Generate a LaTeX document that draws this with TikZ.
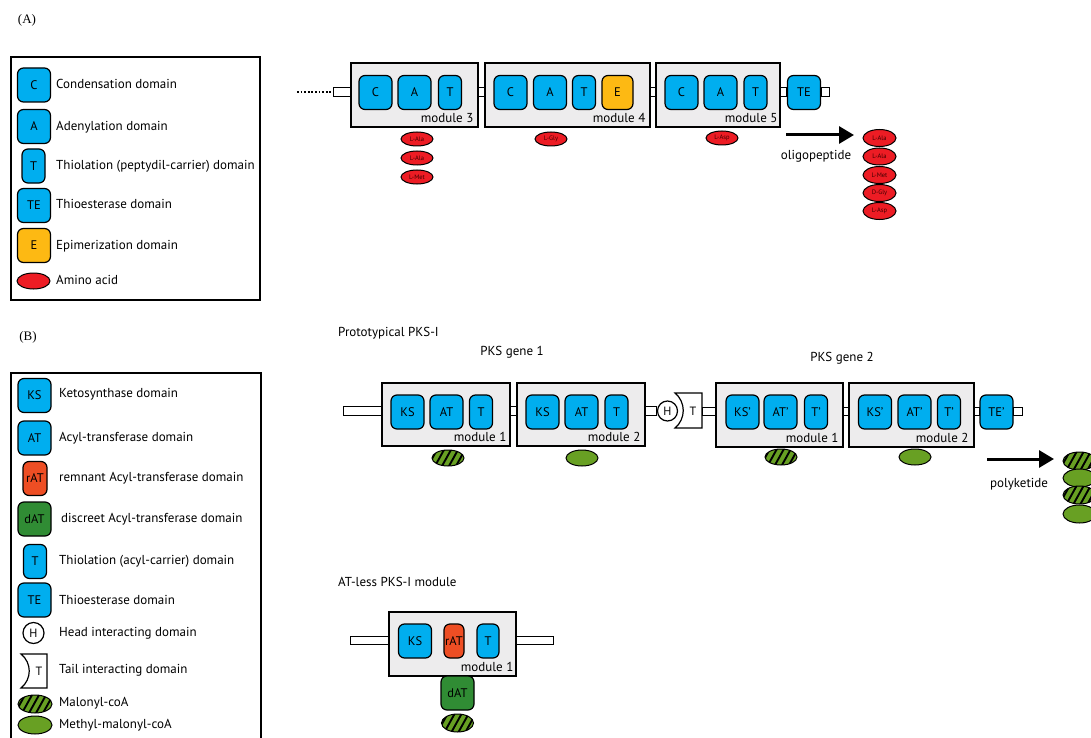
\documentclass[tikz,border=0pt]{standalone}
\usepackage{fontspec}
\setmainfont{PT Sans}
\newfontfamily\serif{Liberation Serif}
\usetikzlibrary{calc,shapes.geometric,arrows.meta}

\definecolor{domblue}{RGB}{0,174,239}
\definecolor{epiyellow}{RGB}{253,185,19}
\definecolor{aared}{RGB}{237,28,36}
\definecolor{modgray}{RGB}{237,236,237}
\definecolor{malgreen}{RGB}{104,160,35}
\definecolor{datgreen}{RGB}{48,140,52}
\definecolor{ratorange}{RGB}{238,78,36}

\begin{document}
\begin{tikzpicture}[x=1pt, y=-1pt,
    dom/.style={draw, line width=1.2pt, rounded corners=6pt, fill=domblue, minimum width=33pt, minimum height=34pt, inner sep=0pt, font=\fontsize{12.5}{12.5}\selectfont},
    thindom/.style={dom, minimum width=23pt},
    module/.style={draw, line width=1.2pt, fill=modgray, minimum height=64pt, inner sep=0pt},
    modname/.style={anchor=base east, inner sep=0pt, font=\fontsize{13}{13}\selectfont},
    aa/.style={ellipse, draw, line width=1pt, fill=aared, minimum width=32pt, minimum height=14pt, inner sep=0pt, text=red!25!black, font=\fontsize{6.5}{6.5}\selectfont},
    coa/.style={ellipse, draw, line width=1pt, fill=malgreen, minimum width=33pt, minimum height=17pt, inner sep=0pt},
    malonyl/.style={coa, path picture={\foreach \k in {-20,-13,...,22} \draw[line width=1.9pt] ([xshift=\k pt]path picture bounding box.south) -- ++(10pt,18pt);}},
    linker/.style={draw, line width=1pt, fill=white},
    legtext/.style={anchor=west, inner sep=0pt, font=\fontsize{13}{13}\selectfont},
    heading/.style={inner sep=0pt, font=\fontsize{13}{13}\selectfont},
    product/.style={line width=3pt, -{Triangle[length=15pt, width=17pt]}}]
  \useasboundingbox (0,0) rectangle (1091,738);

  \node[font=\serif\fontsize{13}{13}\selectfont] (labA) at (27,20) {(A)};
  \node[font=\serif\fontsize{13}{13}\selectfont] (labB) at (28,337) {(B)};

  \draw[line width=1.2pt] (11,57) rectangle (260,300);
  \node[dom] (lc) at (34,85) {C};
  \node[dom] (la) at (34,126.5) {A};
  \node[thindom] (lt) at (33.5,166) {T};
  \node[dom] (lte) at (34,205.5) {TE};
  \node[dom, fill=epiyellow] (le) at (34,245.5) {E};
  \node[aa, minimum width=33pt, minimum height=16pt] (laa) at (33.5,281) {};
  \node[legtext] (tc) at (56,84) {Condensation domain};
  \node[legtext] (ta) at (56,127) {Adenylation domain};
  \node[legtext] (tt) at (56,166) {Thiolation (peptydil-carrier) domain};
  \node[legtext] (tte) at (56,204) {Thioesterase domain};
  \node[legtext] (te) at (56,246) {Epimerization domain};
  \node[legtext] (taa) at (56,280) {Amino acid};

  \node[module, minimum width=127pt] (m3) at (414.5,95) {};
  \node[module, minimum width=165pt] (m4) at (567.5,95) {};
  \node[module, minimum width=124pt] (m5) at (718,95) {};
  \node[dom] (c3) at (375.5,92.5) {C};
  \node[dom] (a3) at (414.5,92.5) {A};
  \node[thindom] (t3) at (450,92.5) {T};
  \node[dom] (c4) at (510.5,92.5) {C};
  \node[dom] (a4) at (550,92.5) {A};
  \node[thindom] (t4) at (584,92.5) {T};
  \node[dom, fill=epiyellow, minimum width=31pt] (e4) at (617.5,92.5) {E};
  \node[dom] (c5) at (681.5,92.5) {C};
  \node[dom] (a5) at (720.5,92.5) {A};
  \node[thindom] (t5) at (755.5,92.5) {T};
  \node[dom] (te5) at (804,92.5) {TE};
  \node[modname] (n3) at ([xshift=-5pt,yshift=5pt]m3.south east) {module 3};
  \node[modname] (n4) at ([xshift=-5pt,yshift=5pt]m4.south east) {module 4};
  \node[modname] (n5) at ([xshift=-3pt,yshift=5pt]m5.south east) {module 5};
  \coordinate (dotA) at (297,92);
  \coordinate (dotB) at (333,92);
  \draw[line width=1.8pt, dash pattern=on 1.8pt off 1.8pt] (dotA) -- (dotB);
  \draw[linker] (333,88) rectangle (m3.west |- 0,97);
  \draw[linker] (m3.east |- 0,88) rectangle (m4.west |- 0,97);
  \draw[linker] (m4.east |- 0,88) rectangle (m5.west |- 0,97);
  \draw[linker] (m5.east |- 0,88) rectangle (te5.west |- 0,97);
  \draw[linker] (te5.east |- 0,88) rectangle (829,97);

  \node[aa] (aa1) at (417,139) {L-Ala};
  \node[aa] (aa2) at (417,158) {L-Ala};
  \node[aa] (aa3) at (417,177) {L-Met};
  \node[aa] (aa4) at (551,139) {L-Gly};
  \node[aa] (aa5) at (722,138) {L-Asp};

  \coordinate (oA) at (786,135);
  \coordinate (oB) at (854,135);
  \draw[product] (oA) -- (oB);
  \node[heading] (olig) at (816,156) {oligopeptide};
  \node[aa, minimum width=33pt, minimum height=17pt] (s1) at (879.5,138) {L-Ala};
  \node[aa, minimum width=33pt, minimum height=17pt] (s2) at (879.5,156.5) {L-Ala};
  \node[aa, minimum width=33pt, minimum height=17pt] (s3) at (879.5,175) {L-Met};
  \node[aa, minimum width=33pt, minimum height=17pt] (s4) at (879.5,193) {D-Gly};
  \node[aa, minimum width=33pt, minimum height=17pt] (s5) at (879.5,211) {L-Asp};

  \draw[line width=1.2pt] (11,373) rectangle (261,745);
  \node[dom] (lks) at (34.5,395.5) {KS};
  \node[dom] (lat) at (34.5,438) {AT};
  \node[dom, fill=ratorange, minimum width=24pt] (lrat) at (35,478.5) {rAT};
  \node[dom, fill=datgreen] (ldat) at (34.5,519) {dAT};
  \node[thindom] (ltb) at (35,561.5) {T};
  \node[dom] (lteb) at (34.5,600) {TE};
  \node[circle, draw, line width=1.2pt, fill=white, minimum size=21pt, inner sep=0pt, font=\fontsize{12}{12}\selectfont] (lh) at (33.5,633) {H};
  \draw[line width=1.2pt, fill=white] (21,654) -- (47,654) -- (47,688) -- (21,688) .. controls (32,679) and (32,663) .. cycle;
  \node[font=\fontsize{12}{12}\selectfont, inner sep=0pt] (ltl) at (39,671) {T};
  \node[malonyl, minimum width=34pt, minimum height=18pt] (lmal) at (35,704) {};
  \node[coa, minimum width=34pt, minimum height=18pt] (lmet) at (35,725) {};
  \node[legtext] (tks) at (59,394) {Ketosynthase domain};
  \node[legtext] (tat) at (59,438) {Acyl-transferase domain};
  \node[legtext] (trat) at (59,478) {remnant Acyl-transferase domain};
  \node[legtext] (tdat) at (61,519) {discreet Acyl-transferase domain};
  \node[legtext] (ttb) at (59,561) {Thiolation (acyl-carrier) domain};
  \node[legtext] (tteb) at (59,600) {Thioesterase domain};
  \node[legtext] (th) at (59,633) {Head interacting domain};
  \node[legtext] (ttl) at (59,670) {Tail interacting domain};
  \node[legtext] (tmal) at (59,703) {Malonyl-coA};
  \node[legtext] (tmet) at (59,725) {Methyl-malonyl-coA};

  \node[heading, anchor=west] (proto) at (338,333) {Prototypical PKS-I};
  \node[heading] (g1) at (512,352) {PKS gene 1};
  \node[heading] (g2) at (842,358) {PKS gene 2};

  \node[module, minimum width=128pt, minimum height=63pt] (p1) at (446,414.5) {};
  \node[module, minimum width=128pt, minimum height=63pt] (p2) at (581,414.5) {};
  \node[module, minimum width=127pt] (q1) at (779.5,415) {};
  \node[module, minimum width=125pt] (q2) at (911.5,415) {};
  \node[dom] (ks1) at (407.5,412) {KS};
  \node[dom] (at1) at (446.5,412) {AT};
  \node[thindom] (t1) at (481,412) {T};
  \node[dom] (ks2) at (542.5,412) {KS};
  \node[dom] (at2) at (581.5,412) {AT};
  \node[thindom] (t2) at (616.5,412) {T};
  \node[dom] (ks3) at (742.5,412) {KS’};
  \node[dom] (at3) at (780.5,412) {AT’};
  \node[thindom] (t3b) at (816,412) {T’};
  \node[dom] (ks4) at (875,412) {KS’};
  \node[dom] (at4) at (914.5,412) {AT’};
  \node[thindom] (t4b) at (949,412) {T’};
  \node[dom] (te6) at (996.5,412) {TE’};
  \node[modname] (np1) at ([xshift=-4pt,yshift=5pt]p1.south east) {module 1};
  \node[modname] (np2) at ([xshift=-5pt,yshift=5pt]p2.south east) {module 2};
  \node[modname] (nq1) at ([xshift=-5pt,yshift=5pt]q1.south east) {module 1};
  \node[modname] (nq2) at ([xshift=-6pt,yshift=5pt]q2.south east) {module 2};
  \node[circle, draw, line width=1.2pt, fill=white, minimum size=20pt, inner sep=0pt, font=\fontsize{12}{12}\selectfont] (hd) at (667.5,411) {H};
  \draw[line width=1.2pt, fill=white] (675,393) -- (702,393) -- (702,428) -- (675,428) .. controls (686,419) and (686,402) .. cycle;
  \node[font=\fontsize{12}{12}\selectfont, inner sep=0pt] (tl) at (693,411) {T};
  \draw[linker] (343,406) rectangle (p1.west |- 0,415);
  \draw[linker] (p1.east |- 0,406) rectangle (p2.west |- 0,415);
  \draw[linker] (p2.east |- 0,406) rectangle (hd.west |- 0,415);
  \draw[linker] (702,407) rectangle (q1.west |- 0,415);
  \draw[linker] (q1.east |- 0,407) rectangle (q2.west |- 0,415);
  \draw[linker] (q2.east |- 0,407) rectangle (te6.west |- 0,415);
  \draw[linker] (te6.east |- 0,407) rectangle (1022,415);

  \node[malonyl, minimum width=32pt, minimum height=16pt] (e1) at (448,458) {};
  \node[coa, minimum width=32pt, minimum height=16pt] (e2) at (582,458) {};
  \node[malonyl, minimum width=32pt, minimum height=16pt] (e3) at (781,457) {};
  \node[coa, minimum width=32pt, minimum height=16pt] (e4b) at (915,457) {};

  \coordinate (pA) at (987,459);
  \coordinate (pB) at (1054,459);
  \draw[product] (pA) -- (pB);
  \node[heading] (poly) at (1019,484) {polyketide};
  \node[malonyl, minimum height=18pt] (k1) at (1079.5,461) {};
  \node[coa, minimum height=18pt] (k2) at (1079.5,478) {};
  \node[malonyl, minimum height=18pt] (k3) at (1079.5,495) {};
  \node[coa, minimum height=18pt] (k4) at (1079.5,514) {};

  \node[heading, anchor=west] (atless) at (338,582) {AT-less PKS-I module};
  \node[module, minimum width=127pt] (r1) at (452.5,644) {};
  \node[dom] (ks5) at (415,641) {KS};
  \node[dom, fill=ratorange, minimum width=20pt] (rat) at (454,641) {rAT};
  \node[thindom, minimum width=22pt] (t5b) at (488,641) {T};
  \node[modname] (nr1) at ([xshift=-3pt,yshift=5pt]r1.south east) {module 1};
  \draw[linker] (350,636) rectangle (r1.west |- 0,644);
  \draw[linker] (r1.east |- 0,636) rectangle (553,644);
  \node[dom, fill=datgreen] (dat) at (457.5,693) {dAT};
  \node[malonyl, minimum width=32pt, minimum height=18pt] (e5) at (457.5,723) {};
\end{tikzpicture}
\end{document}
